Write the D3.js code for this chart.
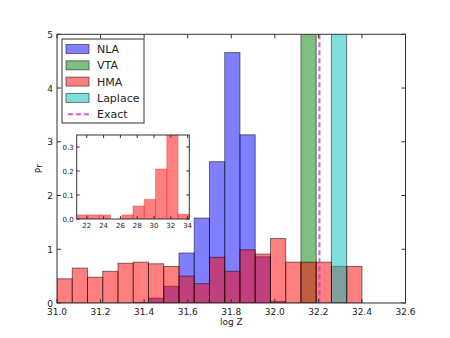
<!DOCTYPE html>
<html>
<head>
<meta charset="utf-8">
<script src="https://cdn.jsdelivr.net/npm/d3@7.9.0/dist/d3.min.js"></script>
<style>
  body { margin: 0; background: #fff; }
  svg { font-family: "DejaVu Sans", sans-serif; }
</style>
</head>
<body>
<svg id="chart" width="450" height="338"></svg>
<script>
// shared bins for the main histogram: 31.0 .. 32.4, width 0.07
const binStart = 31.0;
const binWidth = 0.07;
const nlaValues = [0, 0, 0, 0, 0, 0.01, 0.09, 0.31, 0.93, 1.58, 2.63, 4.66, 3.13, 0.86, 0.03, 0, 0, 0, 0, 0];
const vtaValues = [0, 0, 0, 0, 0, 0, 0, 0, 0, 0, 0, 0, 0, 0, 0, 0, 14.29, 0, 0, 0];
const hmaValues = [0.45, 0.65, 0.48, 0.59, 0.74, 0.76, 0.73, 0.68, 0.50, 0.36, 0.85, 0.59, 0.99, 0.91, 1.20, 0.76, 0.76, 0.76, 0.68, 0.68];
const laplaceValues = [0, 0, 0, 0, 0, 0, 0, 0, 0, 0, 0, 0, 0, 0, 0, 0, 0, 0, 14.29, 0];
const exactValue = 32.205;

// inset: full HMA histogram, 10 bins over 20.8 .. 34.2
const insetStart = 20.8;
const insetWidth = 1.34;
const insetValues = [0.017, 0.017, 0.017, 0, 0.017, 0.054, 0.082, 0.208, 0.42, 0.02];

const xTicks = [31.0, 31.2, 31.4, 31.6, 31.8, 32.0, 32.2, 32.4, 32.6];
const yTicks = [0, 1, 2, 3, 4, 5];
const insetXTicks = [22, 24, 26, 28, 30, 32, 34];
const insetYTicks = [0.0, 0.1, 0.2, 0.3];

const series = [
  { name: 'NLA', values: nlaValues, color: '#0000ff' },
  { name: 'VTA', values: vtaValues, color: '#008000' },
  { name: 'HMA', values: hmaValues, color: '#ff0000' },
  { name: 'Laplace', values: laplaceValues, color: '#00bfbf' }
];

const svg = d3.select('#chart');
const mLeft = 57, mRight = 405.5, mTop = 34.3, mBottom = 303;

const x = d3.scaleLinear().domain([31.0, 32.6]).range([mLeft, mRight]);
const y = d3.scaleLinear().domain([0, 5]).range([mBottom, mTop]);

svg.append('clipPath').attr('id', 'mainClip')
  .append('rect').attr('x', mLeft).attr('y', mTop)
  .attr('width', mRight - mLeft).attr('height', mBottom - mTop);

const plot = svg.append('g').attr('clip-path', 'url(#mainClip)');

series.forEach((s) => {
  const bars = s.values
    .map((v, i) => ({ x0: binStart + i * binWidth, x1: binStart + (i + 1) * binWidth, v }))
    .filter((d) => d.v > 0);
  plot.selectAll(null)
    .data(bars)
    .join('rect')
    .attr('x', (d) => x(d.x0))
    .attr('y', (d) => y(d.v))
    .attr('width', (d) => x(d.x1) - x(d.x0))
    .attr('height', (d) => y(0) - y(d.v))
    .attr('fill', s.color)
    .attr('fill-opacity', 0.5)
    .attr('stroke', '#000')
    .attr('stroke-opacity', 0.5)
    .attr('stroke-width', 1);
});

// exact value
plot.append('line')
  .attr('x1', x(exactValue)).attr('x2', x(exactValue))
  .attr('y1', mTop).attr('y2', mBottom)
  .attr('stroke', '#cc33cc')
  .attr('stroke-opacity', 0.8)
  .attr('stroke-width', 2)
  .attr('stroke-dasharray', '5,3');

// frame + inward ticks on all sides
svg.append('rect')
  .attr('x', mLeft).attr('y', mTop)
  .attr('width', mRight - mLeft).attr('height', mBottom - mTop)
  .attr('fill', 'none').attr('stroke', '#333').attr('stroke-width', 1);

const xAxis = svg.append('g').attr('font-size', 9).attr('fill', '#222');
xTicks.forEach((t) => {
  xAxis.append('line').attr('x1', x(t)).attr('x2', x(t)).attr('y1', mBottom).attr('y2', mBottom - 4).attr('stroke', '#333');
  xAxis.append('line').attr('x1', x(t)).attr('x2', x(t)).attr('y1', mTop).attr('y2', mTop + 4).attr('stroke', '#333');
  xAxis.append('text').attr('x', x(t)).attr('y', mBottom + 12)
    .attr('text-anchor', 'middle').text(d3.format('.1f')(t));
});
const yAxis = svg.append('g').attr('font-size', 9).attr('fill', '#222');
yTicks.forEach((t) => {
  yAxis.append('line').attr('x1', mLeft).attr('x2', mLeft + 4).attr('y1', y(t)).attr('y2', y(t)).attr('stroke', '#333');
  yAxis.append('line').attr('x1', mRight).attr('x2', mRight - 4).attr('y1', y(t)).attr('y2', y(t)).attr('stroke', '#333');
  yAxis.append('text').attr('x', mLeft - 4).attr('y', y(t) + 3.5)
    .attr('text-anchor', 'end').text(t);
});

svg.append('text').attr('x', (mLeft + mRight) / 2).attr('y', 325)
  .attr('text-anchor', 'middle').attr('font-size', 9).attr('fill', '#222').text('log Z');
svg.append('text').attr('transform', `translate(42,${(mTop + mBottom) / 2}) rotate(-90)`)
  .attr('text-anchor', 'middle').attr('font-size', 9).attr('fill', '#222').text('Pr');

// inset
const iLeft = 76.7, iRight = 189.3, iTop = 135, iBottom = 219;
const ix = d3.scaleLinear().domain([insetStart, insetStart + insetWidth * insetValues.length]).range([iLeft, iRight]);
const iy = d3.scaleLinear().domain([0, 0.35]).range([iBottom, iTop]);

svg.append('rect').attr('x', iLeft).attr('y', iTop)
  .attr('width', iRight - iLeft).attr('height', iBottom - iTop).attr('fill', '#fff');
svg.append('clipPath').attr('id', 'insetClip')
  .append('rect').attr('x', iLeft).attr('y', iTop)
  .attr('width', iRight - iLeft).attr('height', iBottom - iTop);

const insetBars = insetValues
  .map((v, i) => ({ x0: insetStart + i * insetWidth, x1: insetStart + (i + 1) * insetWidth, v }))
  .filter((d) => d.v > 0);
svg.append('g').attr('clip-path', 'url(#insetClip)')
  .selectAll('rect')
  .data(insetBars)
  .join('rect')
  .attr('x', (d) => ix(d.x0))
  .attr('y', (d) => iy(d.v))
  .attr('width', (d) => ix(d.x1) - ix(d.x0))
  .attr('height', (d) => iy(0) - iy(d.v))
  .attr('fill', '#ff0000').attr('fill-opacity', 0.5)
  .attr('stroke', '#ff0000').attr('stroke-opacity', 0.3);

svg.append('rect').attr('x', iLeft).attr('y', iTop)
  .attr('width', iRight - iLeft).attr('height', iBottom - iTop)
  .attr('fill', 'none').attr('stroke', '#333');

const insetAxes = svg.append('g').attr('font-size', 7).attr('fill', '#222');
insetXTicks.forEach((t) => {
  insetAxes.append('line').attr('x1', ix(t)).attr('x2', ix(t)).attr('y1', iBottom).attr('y2', iBottom - 3).attr('stroke', '#333');
  insetAxes.append('line').attr('x1', ix(t)).attr('x2', ix(t)).attr('y1', iTop).attr('y2', iTop + 3).attr('stroke', '#333');
  insetAxes.append('text').attr('x', ix(t)).attr('y', iBottom + 9)
    .attr('text-anchor', 'middle').text(t);
});
insetYTicks.forEach((t) => {
  insetAxes.append('line').attr('x1', iLeft).attr('x2', iLeft + 3).attr('y1', iy(t)).attr('y2', iy(t)).attr('stroke', '#333');
  insetAxes.append('line').attr('x1', iRight).attr('x2', iRight - 3).attr('y1', iy(t)).attr('y2', iy(t)).attr('stroke', '#333');
  insetAxes.append('text').attr('x', iLeft - 3).attr('y', iy(t) + 2.5)
    .attr('text-anchor', 'end').text(d3.format('.1f')(t));
});

// legend
const legend = svg.append('g');
legend.append('rect').attr('x', 62).attr('y', 39).attr('width', 82).attr('height', 84)
  .attr('fill', '#fff').attr('stroke', '#333').attr('stroke-width', 1);
const legendItems = series.map((s) => ({ name: s.name, color: s.color, kind: 'patch' }))
  .concat([{ name: 'Exact', color: '#cc33cc', kind: 'line' }]);
legendItems.forEach((d, i) => {
  const cy = 49 + i * 16.3;
  if (d.kind === 'patch') {
    legend.append('rect').attr('x', 66).attr('y', cy - 4.5).attr('width', 23).attr('height', 9)
      .attr('fill', d.color).attr('fill-opacity', 0.5)
      .attr('stroke', '#000').attr('stroke-opacity', 0.5);
  } else {
    legend.append('line').attr('x1', 66).attr('x2', 89).attr('y1', cy).attr('y2', cy)
      .attr('stroke', d.color).attr('stroke-opacity', 0.8).attr('stroke-width', 2)
      .attr('stroke-dasharray', '5,3').attr('stroke-dashoffset', -2);
  }
  legend.append('text').attr('x', 97).attr('y', cy + 4)
    .attr('font-size', 11).attr('fill', '#222').text(d.name);
});
</script>
</body>
</html>
